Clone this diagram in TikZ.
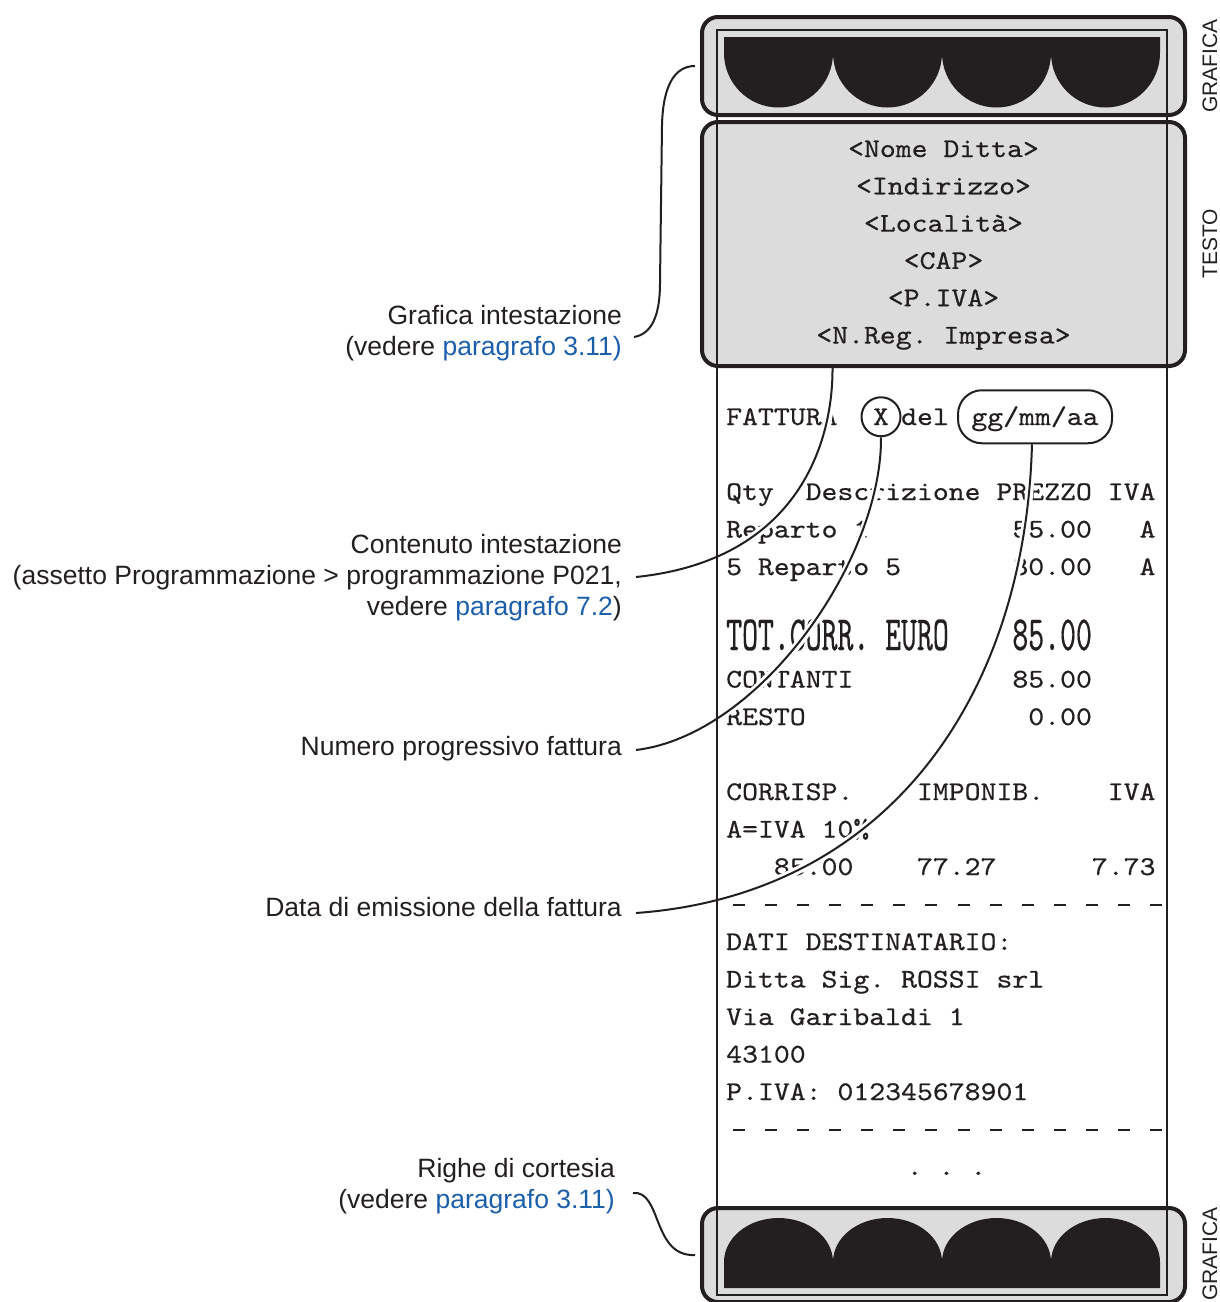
\documentclass[tikz,border=0pt]{standalone}
\usepackage{fontspec}
\usepackage{graphicx}
\setmainfont{Liberation Sans}
\newfontfamily\rmono{lmmono10-regular}[Extension=.otf,FakeStretch=1.1217,FakeBold=0.5]
\definecolor{Ink}{HTML}{231F20}
\definecolor{Shade}{HTML}{DCDCDC}
\definecolor{LinkBlue}{HTML}{1B5EAA}
\newcommand\gap[1]{\hspace*{#1\fontcharwd\font`\ }}
\frenchspacing

\begin{document}
\begin{tikzpicture}[x=1pt,y=-1pt,
  panel/.style={draw=Ink,fill=Shade,line width=4pt,rounded corners=16pt,minimum width=483pt,inner sep=0pt},
  rtxt/.style={font=\rmono\fontsize{27}{37.5}\selectfont,text=Ink,inner sep=0pt,anchor=base west},
  tag/.style={draw=Ink,line width=2pt,font=\rmono\fontsize{27}{37.5}\selectfont,text=Ink,inner sep=0pt,text height=16.5pt,text depth=0pt},
  lbl/.style={font=\fontsize{26.5}{31}\selectfont,text=Ink,inner sep=0pt,anchor=base east},
  side/.style={font=\fontsize{21}{24}\selectfont,text=Ink,inner sep=0pt,rotate=90},
  lead/.style={draw=Ink,line width=2pt,preaction={draw=white,line width=8pt,shorten >=5pt}},
  cut/.style={draw=Ink,line width=2.2pt,dash pattern=on 12pt off 20.08pt}
]
\useasboundingbox (0,0) rectangle (1220,1302);

% panels
\node[panel,minimum height=98pt] (grafsup) at (943.5,66) {};
\node[panel,minimum height=244pt] (testo) at (943.5,244) {};
\node[panel,minimum height=94pt] (grafinf) at (943.5,1255) {};

% header text
\foreach \t [count=\i from 0] in {<Nome Ditta>,<Indirizzo>,<Località>,<CAP>,<P.IVA>,<N.Reg. Impresa>}
  \node[rtxt,anchor=base] (hd\i) at (943.5,{157+37.3*\i}) {\t};

% receipt body
\node[rtxt] (fatt) at (726,425) {FATTURA};
\node[tag,circle,minimum size=39pt] (xnum) at (881,416.75) {X};
\node[rtxt] (del) at (901,425) {del};
\node[tag,rounded corners=24pt,minimum width=154pt,minimum height=53pt] (dt) at (1035,416.75) {gg/mm/aa};
\node[rtxt] (r1) at (726,500) {Qty\gap{2}Descrizione PREZZO IVA};
\node[rtxt] (r2) at (726,537.5) {Reparto 1\gap{9}55.00\gap{3}A};
\node[rtxt] (r3) at (726,575) {5 Reparto 5\gap{7}30.00\gap{3}A};
\node[rtxt] (r4) at (726,650) {\scalebox{1}[1.82]{TOT.CORR. EURO\gap{4}85.00}};
\node[rtxt] (r5) at (726,687.5) {CONTANTI\gap{10}85.00};
\node[rtxt] (r6) at (726,725) {RESTO\gap{14}0.00};
\node[rtxt] (r7) at (726,800) {CORRISP.\gap{4}IMPONIB.\gap{4}IVA};
\node[rtxt] (r8) at (726,837.5) {A=IVA 10\%};
\node[rtxt] (r9) at (726,875) {\gap{3}85.00\gap{4}77.27\gap{6}7.73};
\draw[cut] (733,905) -- (1162,905);
\node[rtxt] (r10) at (726,950) {DATI DESTINATARIO:};
\node[rtxt] (r11) at (726,987.5) {Ditta Sig. ROSSI srl};
\node[rtxt] (r12) at (726,1025) {Via Garibaldi 1};
\node[rtxt] (r13) at (726,1062.5) {43100};
\node[rtxt] (r14) at (726,1100) {P.IVA: 012345678901};
\draw[cut] (733,1130) -- (1162,1130);
\node[rtxt,anchor=base] (dots) at (946.5,1175) {.\gap{1}.\gap{1}.};

% labels
\node[lbl] (graf1) at (622,324) {Grafica intestazione};
\node[lbl] (graf2) at (622,355) {(vedere \textcolor{LinkBlue}{paragrafo 3.11)}};
\node[lbl] (cont1) at (622,553) {Contenuto intestazione};
\node[lbl] (cont2) at (622,584) {(assetto Programmazione > programmazione P021,};
\node[lbl] (cont3) at (622,615) {vedere \textcolor{LinkBlue}{paragrafo 7.2})};
\node[lbl] (num) at (622,755) {Numero progressivo fattura};
\node[lbl] (data) at (622,916) {Data di emissione della fattura};
\node[lbl] (righe1) at (615,1177) {Righe di cortesia};
\node[lbl] (righe2) at (615,1208) {(vedere \textcolor{LinkBlue}{paragrafo 3.11)}};

% leaders
\draw[lead] ([xshift=12pt,yshift=18pt]graf2.base east) .. controls (652,334) and (660,315) .. (660,283) -- (662,125) .. controls (663,85) and (675,66) .. ([xshift=-5pt]grafsup.west);
\draw[lead] ([xshift=14pt,yshift=7pt]cont2.base east) .. controls (800,560) and (833,440) .. ([xshift=-111pt]testo.south);
\draw[lead] ([xshift=14pt,yshift=5pt]num.base east) .. controls (760,735) and (882,560) .. (xnum.south);
\draw[lead] ([xshift=14pt,yshift=3pt]data.base east) .. controls (885,895) and (1025,700) .. ([xshift=-3pt]dt.south);
\draw[lead] ([xshift=18pt,yshift=15pt]righe2.base east) .. controls (662,1190) and (652,1257) .. ([xshift=-5pt]grafinf.west);

% paper strip
\draw[Ink,line width=2pt] (717,30) rectangle (1167,1295);

% graphics
\fill[Ink] (724,37) -- (1160,37) -- (1160,53) \foreach \k in {1,...,4} {arc[start angle=0,end angle=180,radius=54.5]} -- cycle;
\fill[Ink] (724,1288) -- (724,1262) \foreach \k in {1,...,4} {arc[start angle=180,end angle=360,x radius=54.5,y radius=44]} -- (1160,1288) -- cycle;

% side names
\node[side] (sgraf1) at (1210,66) {GRAFICA};
\node[side] (stesto) at (1210,244) {TESTO};
\node[side] (sgraf2) at (1210,1254) {GRAFICA};
\end{tikzpicture}
\end{document}
